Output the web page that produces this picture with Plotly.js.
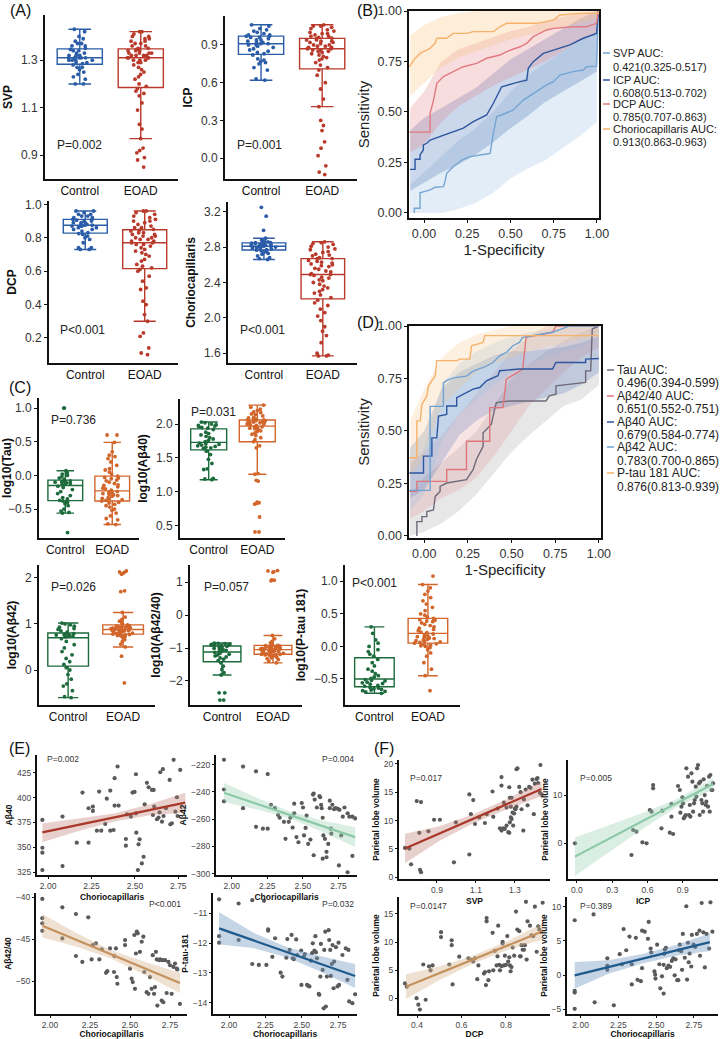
<!DOCTYPE html>
<html>
<head>
<meta charset="utf-8">
<script src="https://cdn.plot.ly/plotly-3.0.1.min.js"></script>
<style>html,body{margin:0;padding:0;background:#fff}#plot{width:723px;height:1039px}</style>
</head>
<body>
<div id="plot"></div>
<script>
// ---------- (A) OCTA box plots ----------
var svpControl = [1.20,1.20,1.22,1.23,1.24,1.25,1.26,1.27,1.27,1.28,1.285,1.29,1.29,1.30,1.30,1.30,1.30,1.31,1.31,1.31,1.31,1.31,1.32,1.32,1.32,1.33,1.33,1.34,1.34,1.345,1.35,1.36,1.36,1.37,1.37,1.38,1.39,1.40,1.42,1.43];
var svpEoad = [0.85,0.88,0.89,0.91,0.92,0.93,0.97,1.01,1.03,1.09,1.12,1.15,1.16,1.17,1.18,1.19,1.20,1.22,1.23,1.24,1.25,1.26,1.27,1.28,1.29,1.29,1.30,1.30,1.30,1.31,1.31,1.31,1.31,1.32,1.32,1.32,1.32,1.33,1.33,1.33,1.33,1.34,1.34,1.34,1.345,1.35,1.35,1.36,1.36,1.37,1.37,1.38,1.38,1.39,1.39,1.40,1.40,1.41,1.42,1.42];
var icpControl = [0.62,0.63,0.70,0.72,0.75,0.76,0.77,0.78,0.79,0.82,0.83,0.84,0.85,0.86,0.87,0.88,0.89,0.90,0.90,0.91,0.91,0.92,0.92,0.93,0.94,0.94,0.95,0.96,0.96,0.97,0.97,0.98,0.98,0.99,1.00,1.01,1.02,1.03,1.05,1.06];
var icpEoad = [-0.13,-0.11,-0.06,0.02,0.08,0.13,0.22,0.26,0.30,0.41,0.47,0.55,0.60,0.66,0.70,0.72,0.74,0.76,0.78,0.79,0.80,0.81,0.82,0.83,0.84,0.85,0.85,0.86,0.86,0.87,0.87,0.88,0.88,0.89,0.89,0.90,0.90,0.91,0.92,0.92,0.93,0.93,0.94,0.94,0.95,0.955,0.96,0.97,0.97,0.98,0.99,0.99,1.00,1.01,1.02,1.03,1.04,1.05,1.05,1.06];
var dcpControl = [0.73,0.73,0.74,0.74,0.77,0.79,0.80,0.81,0.82,0.825,0.83,0.84,0.85,0.85,0.86,0.86,0.87,0.87,0.87,0.875,0.875,0.88,0.88,0.89,0.89,0.89,0.90,0.90,0.905,0.91,0.91,0.92,0.92,0.93,0.93,0.94,0.94,0.95,0.96,0.96];
var dcpEoad = [0.10,0.11,0.14,0.21,0.23,0.30,0.34,0.40,0.42,0.49,0.50,0.54,0.57,0.60,0.61,0.62,0.63,0.64,0.66,0.67,0.69,0.70,0.71,0.72,0.73,0.74,0.75,0.76,0.76,0.77,0.77,0.78,0.78,0.79,0.79,0.80,0.80,0.81,0.81,0.82,0.82,0.83,0.83,0.84,0.845,0.85,0.86,0.86,0.87,0.88,0.89,0.90,0.90,0.91,0.92,0.93,0.94,0.95,0.96,0.96];
var choControl = [2.66,2.67,2.68,2.70,2.72,2.73,2.74,2.75,2.76,2.765,2.77,2.78,2.78,2.79,2.79,2.80,2.80,2.80,2.81,2.81,2.81,2.82,2.82,2.82,2.83,2.83,2.83,2.84,2.84,2.845,2.85,2.85,2.86,2.86,2.87,2.88,2.90,2.99,3.15,3.25];
var choEoad = [1.57,1.57,1.58,1.60,1.72,1.80,1.85,1.90,1.97,2.02,2.06,2.10,2.14,2.17,2.20,2.23,2.26,2.28,2.30,2.32,2.34,2.36,2.38,2.40,2.42,2.43,2.45,2.46,2.48,2.49,2.49,2.50,2.52,2.53,2.55,2.56,2.58,2.59,2.60,2.61,2.62,2.63,2.64,2.65,2.67,2.67,2.68,2.70,2.71,2.72,2.74,2.75,2.77,2.78,2.80,2.81,2.83,2.84,2.85,2.86];

// ---------- (C) plasma marker box plots ----------
var tauControl = [-0.85,-0.56,-0.55,-0.53,-0.50,-0.45,-0.42,-0.40,-0.38,-0.37,-0.35,-0.33,-0.30,-0.27,-0.24,-0.21,-0.18,-0.16,-0.14,-0.13,-0.12,-0.11,-0.10,-0.10,-0.09,-0.09,-0.08,-0.06,-0.04,-0.02,0.0,0.02,0.04,0.07,1.0,1.0];
var tauEoad = [-0.73,-0.72,-0.66,-0.64,-0.60,-0.56,-0.52,-0.50,-0.47,-0.45,-0.43,-0.41,-0.40,-0.38,-0.37,-0.36,-0.35,-0.34,-0.33,-0.31,-0.30,-0.29,-0.28,-0.27,-0.26,-0.25,-0.24,-0.22,-0.20,-0.19,-0.17,-0.15,-0.14,-0.12,-0.10,-0.08,-0.07,-0.05,-0.04,-0.03,-0.01,0.02,0.05,0.08,0.10,0.15,0.20,0.25,0.28,0.30,0.35,0.49,0.60,0.60];
var ab40Control = [1.18,1.19,1.20,1.33,1.34,1.42,1.48,1.55,1.60,1.64,1.65,1.66,1.67,1.68,1.69,1.70,1.71,1.72,1.74,1.76,1.78,1.80,1.82,1.84,1.86,1.88,1.92,1.94,1.95,1.96,1.97,1.98,1.99,2.00,2.02,2.03];
var ab40Eoad = [0.41,0.41,0.63,0.82,0.83,0.84,0.85,1.16,1.17,1.26,1.27,1.65,1.68,1.74,1.77,1.80,1.83,1.85,1.87,1.89,1.90,1.92,1.93,1.94,1.95,1.96,1.96,1.98,1.99,2.00,2.00,2.01,2.02,2.02,2.03,2.03,2.04,2.05,2.05,2.06,2.06,2.07,2.08,2.09,2.10,2.12,2.14,2.15,2.17,2.18,2.20,2.22,2.25,2.28];
var ab42Control = [-0.60,-0.58,-0.45,-0.35,-0.30,-0.20,-0.10,0.0,0.05,0.12,0.18,0.25,0.33,0.40,0.48,0.55,0.62,0.68,0.72,0.73,0.74,0.75,0.76,0.76,0.77,0.78,0.79,0.82,0.85,0.88,0.90,0.93,0.95,0.98,1.0,1.02];
var ab42Eoad = [-0.28,0.30,0.50,0.56,0.62,0.66,0.70,0.72,0.74,0.75,0.76,0.77,0.77,0.78,0.79,0.80,0.81,0.82,0.83,0.84,0.85,0.85,0.86,0.86,0.87,0.87,0.88,0.88,0.89,0.90,0.90,0.91,0.92,0.93,0.93,0.94,0.95,0.95,0.96,0.96,0.98,1.00,1.03,1.06,1.10,1.15,1.25,1.70,1.72,2.08,2.10,2.12,2.13,2.15];
var ratioControl = [-2.58,-2.58,-2.36,-2.36,-1.82,-1.75,-1.65,-1.55,-1.45,-1.38,-1.34,-1.30,-1.27,-1.24,-1.21,-1.19,-1.16,-1.13,-1.11,-1.09,-1.07,-1.05,-1.03,-1.01,-0.99,-0.97,-0.95,-0.93,-0.92,-0.91,-0.90,-0.89,-0.88,-0.87,-0.86,-0.85];
var ratioEoad = [-1.45,-1.40,-1.35,-1.32,-1.30,-1.28,-1.26,-1.24,-1.22,-1.21,-1.20,-1.20,-1.19,-1.19,-1.18,-1.16,-1.15,-1.13,-1.12,-1.11,-1.10,-1.09,-1.08,-1.07,-1.06,-1.06,-1.05,-1.05,-1.04,-1.03,-1.02,-1.01,-1.00,-0.99,-0.98,-0.97,-0.96,-0.95,-0.94,-0.93,-0.92,-0.90,-0.88,-0.85,-0.80,-0.72,-0.62,1.04,1.06,1.07,1.30,1.32,1.34,1.35];
var ptauControl = [-0.72,-0.70,-0.69,-0.68,-0.67,-0.66,-0.65,-0.64,-0.63,-0.61,-0.60,-0.58,-0.57,-0.56,-0.55,-0.53,-0.52,-0.51,-0.49,-0.47,-0.45,-0.42,-0.38,-0.35,-0.30,-0.25,-0.20,-0.15,-0.12,-0.08,-0.05,0.0,0.05,0.10,0.20,0.30];
var ptauEoad = [-0.68,-0.45,-0.35,-0.25,-0.15,-0.10,-0.05,-0.02,0.0,0.01,0.02,0.03,0.04,0.05,0.06,0.07,0.08,0.09,0.10,0.11,0.12,0.13,0.14,0.15,0.16,0.17,0.19,0.21,0.22,0.24,0.26,0.28,0.30,0.32,0.34,0.36,0.38,0.39,0.40,0.41,0.43,0.45,0.48,0.50,0.55,0.60,0.65,0.70,0.75,0.80,0.85,0.90,0.95,1.08];

// ---------- (B) ROC, OCTA ----------
var bandGrid = [-0.08,0,0.1,0.2,0.3,0.4,0.5,0.6,0.7,0.8,0.9,1.0];
var svpRocX = [-0.056,-0.056,-0.023,-0.023,0.035,0.064,0.112,0.121,0.131,0.169,0.218,0.266,0.362,0.382,0.401,0.420,0.449,0.516,0.574,0.651,0.709,0.748,0.786,0.863,0.921,0.940,0.998,1.008];
var svpRocY = [0,0.023,0.023,0.100,0.114,0.127,0.130,0.155,0.196,0.229,0.262,0.279,0.292,0.295,0.394,0.477,0.485,0.510,0.559,0.601,0.634,0.650,0.683,0.700,0.708,0.724,0.727,1.000];
var svpLo = [0,0,0,0.02,0.05,0.10,0.17,0.22,0.26,0.32,0.38,0.45];
var svpHi = [0.14,0.20,0.28,0.36,0.42,0.50,0.60,0.68,0.74,0.80,0.85,0.90];
var icpRocX = [-0.081,-0.052,-0.052,-0.023,-0.023,-0.004,-0.004,0.016,0.035,0.093,0.169,0.227,0.285,0.362,0.401,0.449,0.555,0.594,0.603,0.632,0.690,0.748,0.844,0.921,0.998,1.008];
var icpRocY = [0.216,0.216,0.266,0.266,0.287,0.312,0.337,0.345,0.361,0.378,0.403,0.420,0.452,0.485,0.543,0.625,0.650,0.658,0.716,0.749,0.790,0.807,0.832,0.865,0.889,1.000];
var icpLo = [0.11,0.15,0.20,0.24,0.29,0.35,0.42,0.48,0.55,0.60,0.65,0.70];
var icpHi = [0.41,0.47,0.52,0.57,0.62,0.69,0.76,0.81,0.86,0.91,0.96,1.00];
var dcpRocX = [-0.085,0.035,0.035,0.055,0.074,0.112,0.169,0.227,0.304,0.362,0.439,0.478,0.555,0.594,0.632,0.709,0.748,0.863,0.940,0.998,1.008];
var dcpRocY = [0.400,0.400,0.493,0.559,0.642,0.675,0.700,0.724,0.741,0.766,0.782,0.799,0.823,0.840,0.873,0.906,0.914,0.922,0.922,0.939,1.000];
var dcpLo = [0.30,0.34,0.45,0.53,0.58,0.63,0.67,0.71,0.75,0.80,0.85,0.89];
var dcpHi = [0.52,0.60,0.75,0.81,0.84,0.87,0.90,0.92,0.95,0.97,0.99,1.00];
var choRocX = [-0.085,-0.052,-0.023,0.035,0.064,0.074,0.131,0.169,0.246,0.285,0.401,0.439,0.478,0.651,0.748,0.786,0.902,1.008,1.008];
var choRocY = [0.724,0.765,0.790,0.815,0.840,0.865,0.865,0.889,0.889,0.898,0.898,0.922,0.939,0.939,0.955,0.980,0.988,0.988,1.000];
var choLo = [0.58,0.64,0.72,0.77,0.80,0.83,0.86,0.88,0.90,0.92,0.94,0.96];
var choHi = [0.88,0.93,0.97,0.99,1,1,1,1,1,1,1,1];
var rocLabelsB = ['SVP AUC:', '0.421(0.325-0.517)', 'ICP AUC:', '0.608(0.513-0.702)', 'DCP AUC:', '0.785(0.707-0.863)', 'Choriocapillaris AUC:', '0.913(0.863-0.963)'];

// ---------- (D) ROC, plasma markers ----------
var tauRocX = [-0.042,-0.042,-0.013,-0.013,0.015,0.015,0.053,0.063,0.091,0.091,0.129,0.186,0.242,0.261,0.280,0.299,0.337,0.337,0.384,0.403,0.413,0.489,0.697,0.716,0.754,0.754,0.924,0.924,0.953,0.962,1.0];
var tauRocY = [0,0.068,0.068,0.092,0.092,0.116,0.124,0.188,0.212,0.236,0.252,0.260,0.268,0.292,0.316,0.364,0.427,0.491,0.531,0.603,0.635,0.643,0.643,0.667,0.675,0.715,0.731,0.786,0.786,0.986,1.0];
var tauLo = [0,0.02,0.06,0.12,0.20,0.30,0.40,0.48,0.55,0.62,0.65,0.72];
var tauHi = [0.20,0.28,0.35,0.42,0.50,0.62,0.75,0.82,0.88,0.93,0.97,1.0];
var ratioRocX = [-0.085,-0.042,-0.042,0.129,0.129,0.242,0.242,0.375,0.375,0.451,0.470,0.564,0.583,0.735,0.754,1.0];
var ratioRocY = [0.212,0.212,0.260,0.260,0.316,0.316,0.451,0.451,0.611,0.611,0.747,0.795,0.946,0.970,1.0,1.0];
var ratioLo = [0.08,0.12,0.18,0.22,0.28,0.38,0.50,0.62,0.70,0.78,0.85,0.90];
var ratioHi = [0.35,0.40,0.48,0.58,0.68,0.78,0.88,0.95,1,1,1,1];
var ab40RocX = [-0.085,-0.004,-0.004,0.044,0.044,0.072,0.082,0.129,0.129,0.186,0.186,0.280,0.318,0.356,0.422,0.432,0.545,0.735,0.754,0.924,0.924,0.962,1.0];
var ab40RocY = [0.300,0.300,0.380,0.380,0.467,0.467,0.571,0.579,0.619,0.619,0.659,0.699,0.707,0.739,0.763,0.787,0.795,0.795,0.826,0.826,0.842,0.845,0.845];
var ab40Lo = [0.18,0.22,0.35,0.48,0.55,0.60,0.62,0.64,0.66,0.68,0.72,0.78];
var ab40Hi = [0.42,0.50,0.70,0.78,0.82,0.86,0.88,0.88,0.89,0.90,0.92,0.95];
var ab42RocX = [-0.085,0.034,0.034,0.110,0.110,0.129,0.167,0.242,0.280,0.356,0.394,0.432,0.470,0.508,0.545,0.564,0.735,0.830,1.0];
var ab42RocY = [0.217,0.217,0.617,0.617,0.729,0.741,0.753,0.761,0.785,0.809,0.826,0.858,0.874,0.906,0.922,0.946,0.970,1.0,1.0];
var ab42Lo = [0.12,0.20,0.45,0.58,0.65,0.72,0.78,0.82,0.85,0.88,0.90,0.95];
var ab42Hi = [0.32,0.42,0.72,0.82,0.88,0.92,0.95,0.97,0.98,0.99,1,1];
var ptauRocX = [-0.085,-0.042,-0.042,-0.023,-0.013,0.015,0.025,0.063,0.072,0.186,0.205,0.261,0.271,0.337,0.346,1.0];
var ptauRocY = [0.372,0.372,0.548,0.548,0.627,0.667,0.715,0.763,0.835,0.835,0.842,0.842,0.906,0.922,0.954,0.954];
var ptauLo = [0.28,0.38,0.62,0.70,0.78,0.82,0.85,0.88,0.90,0.92,0.94,0.96];
var ptauHi = [0.55,0.70,0.85,0.92,0.96,0.98,1,1,1,1,1,1];
var rocLabelsD = ['Tau AUC:', '0.496(0.394-0.599)', 'A\u03b242/40 AUC:', '0.651(0.552-0.751)', 'A\u03b240 AUC:', '0.679(0.584-0.774)', 'A\u03b242 AUC:', '0.783(0.700-0.865)', 'P-tau 181 AUC:', '0.876(0.813-0.939)'];

// ---------- (E) markers vs choriocapillaris ----------
var e1X = [1.967,1.967,1.967,2.083,2.165,2.198,2.233,2.233,2.258,2.258,2.281,2.294,2.306,2.338,2.329,2.358,2.358,2.377,2.400,2.383,2.406,2.383,2.448,2.448,2.454,2.477,2.498,2.486,2.506,2.506,2.508,2.527,2.521,2.550,2.556,2.569,2.579,2.598,2.604,2.608,2.611,2.627,2.636,2.646,2.642,2.656,2.661,2.665,2.679,2.700,2.704,2.713,2.723,2.733,2.742,2.746,2.761,1.967,2.083,2.517,2.540];
var e1Y = [377.5,349.5,344.5,380.9,354.6,405.1,389.3,354.6,391.0,386.6,366.7,406.1,366.7,399.0,373.4,366.7,407.1,367.4,431.4,392.0,392.0,419.6,358.3,351.6,383.2,380.9,405.8,405.1,423.6,384.2,364.7,358.0,352.9,340.4,393.3,414.9,410.5,407.8,382.5,407.8,391.0,378.2,379.9,425.6,385.2,375.8,428.7,381.5,389.3,417.9,373.1,374.1,438.1,385.9,400.4,381.5,428.0,327.0,331.0,327.0,333.7];
var e1FitX = [1.967,2.17,2.38,2.58,2.79];
var e1Fit = [365,372.4,380,387.3,395];
var e1Lo = [355,366,376,382,385];
var e1Hi = [374,379,384,393,405];

var e2X = [1.946,1.946,1.946,2.080,2.080,2.171,2.171,2.253,2.219,2.253,2.276,2.303,2.326,2.337,2.367,2.378,2.401,2.412,2.428,2.439,2.439,2.455,2.469,2.492,2.501,2.508,2.519,2.526,2.537,2.553,2.571,2.576,2.583,2.598,2.617,2.621,2.628,2.632,2.639,2.644,2.655,2.666,2.678,2.689,2.689,2.696,2.700,2.707,2.719,2.730,2.746,2.757,2.769,2.780,2.792,2.814,2.826,2.848,2.848,2.867,2.753,2.814,2.576,2.639,2.666];
var e2Y = [-216.5,-238.3,-247.0,-221.5,-252.0,-225.0,-265.7,-227.0,-267.0,-267.0,-249.5,-252.0,-257.0,-259.0,-262.0,-274.5,-262.0,-259.0,-266.2,-248.7,-255.7,-273.2,-277.0,-248.2,-251.5,-272.0,-266.5,-257.5,-278.2,-275.0,-242.0,-241.3,-245.7,-251.5,-243.2,-244.0,-249.5,-252.0,-259.0,-272.0,-274.5,-284.0,-278.2,-246.5,-252.0,-267.0,-270.7,-249.5,-252.7,-252.0,-252.5,-253.2,-272.0,-258.2,-251.5,-255.7,-258.2,-258.2,-287.0,-259.5,-294.0,-299.0,-286.5,-289.0,-288.0];
var e2FitX = [1.946,2.18,2.41,2.64,2.867];
var e2Fit = [-240.7,-249,-257,-265,-273.2];
var e2Lo = [-247.5,-253,-259.5,-269.5,-280.5];
var e2Hi = [-233.5,-244.5,-254.5,-261,-266];

var e3X = [1.952,1.952,1.952,1.952,2.077,2.077,2.162,2.162,2.202,2.239,2.260,2.267,2.287,2.308,2.323,2.375,2.350,2.358,2.402,2.400,2.412,2.417,2.421,2.469,2.469,2.500,2.510,2.517,2.527,2.542,2.548,2.531,2.537,2.562,2.573,2.583,2.589,2.604,2.615,2.625,2.635,2.642,2.650,2.656,2.662,2.667,2.671,2.683,2.688,2.698,2.704,2.708,2.719,2.729,2.740,2.750,2.760,2.771,2.781,2.792,2.796,2.812];
var e3Y = [-40.2,-42.5,-43.1,-44.0,-41.2,-44.9,-42.0,-47.0,-47.7,-42.4,-47.4,-45.7,-45.5,-47.4,-46.2,-46.1,-49.0,-48.8,-47.0,-48.9,-46.1,-49.5,-50.3,-45.1,-45.7,-48.5,-49.7,-50.1,-44.5,-44.1,-44.3,-50.9,-46.7,-46.5,-45.3,-44.7,-48.9,-51.3,-51.5,-49.5,-50.9,-46.9,-51.5,-50.7,-46.5,-47.4,-52.9,-47.5,-47.4,-52.3,-47.5,-52.5,-47.5,-51.4,-47.7,-48.1,-51.5,-48.3,-47.9,-48.5,-48.6,-52.7];
var e3FitX = [1.952,2.167,2.382,2.597,2.812];
var e3Fit = [-43.4,-45.1,-46.8,-48.5,-50.2];
var e3Lo = [-44.8,-45.9,-47.3,-49.3,-51.4];
var e3Hi = [-42.0,-44.3,-46.3,-47.7,-49.0];

var e4X = [1.932,1.932,1.932,2.066,2.066,2.160,2.160,2.205,2.241,2.257,2.269,2.269,2.298,2.317,2.355,2.367,2.394,2.401,2.417,2.430,2.439,2.446,2.462,2.469,2.496,2.498,2.514,2.521,2.537,2.544,2.553,2.564,2.571,2.576,2.587,2.594,2.598,2.605,2.617,2.621,2.628,2.632,2.644,2.651,2.655,2.662,2.666,2.673,2.685,2.689,2.696,2.700,2.707,2.712,2.719,2.723,2.735,2.746,2.753,2.757,2.780,2.803,2.814,2.821,2.826,2.848,2.867];
var e4Y = [-10.54,-11.77,-11.99,-10.68,-11.90,-10.57,-12.70,-12.73,-10.59,-12.73,-11.54,-11.59,-12.46,-11.84,-12.99,-13.12,-12.49,-11.87,-12.23,-11.73,-12.51,-12.54,-11.88,-12.40,-12.25,-13.40,-12.46,-12.37,-13.40,-13.43,-13.45,-12.59,-12.34,-12.01,-12.25,-11.77,-12.31,-12.51,-13.70,-13.73,-13.12,-12.03,-12.90,-14.18,-12.23,-11.62,-14.12,-13.12,-11.57,-11.90,-12.23,-13.10,-12.70,-12.07,-13.51,-12.62,-12.14,-13.45,-11.99,-13.40,-12.40,-12.18,-13.23,-12.23,-13.95,-14.01,-13.71];
var e4FitX = [1.932,2.166,2.4,2.633,2.867];
var e4Fit = [-11.51,-11.91,-12.31,-12.7,-13.1];
var e4Lo = [-12.05,-12.17,-12.48,-12.96,-13.5];
var e4Hi = [-10.97,-11.65,-12.14,-12.44,-12.7];

// ---------- (F) parietal lobe volume vs OCTA ----------
var f1X = [0.736,0.758,0.796,0.818,0.809,0.856,0.885,0.915,0.997,1.066,1.066,1.086,1.074,1.095,1.117,1.146,1.155,1.185,1.189,1.211,1.231,1.231,1.243,1.257,1.271,1.274,1.279,1.283,1.300,1.308,1.313,1.223,1.231,1.240,1.248,1.257,1.266,1.271,1.274,1.279,1.283,1.288,1.291,1.296,1.303,1.308,1.322,1.329,1.334,1.343,1.346,1.355,1.365,1.373,1.380,1.390,1.397,1.402,1.411,1.416,1.419,1.428,1.431,1.437,0.767,0.813,0.818,0.987];
var f1Y = [5.18,5.07,13.46,13.28,7.84,8.13,10.16,10.16,9.70,14.62,4.02,13.63,11.14,9.41,10.56,9.58,11.14,15.14,10.68,12.13,17.68,16.18,13.17,12.30,15.89,14.04,12.47,14.04,12.13,19.07,19.24,8.65,8.25,8.65,8.54,9.12,7.96,7.84,9.70,10.56,10.27,11.43,9.12,11.26,12.01,12.47,15.95,15.02,12.01,8.25,13.75,15.48,12.71,15.95,15.77,17.22,11.14,16.53,17.33,17.51,16.64,14.90,19.82,14.62,2.29,1.31,0.90,2.64];
var f1FitX = [0.736,0.911,1.087,1.262,1.437];
var f1Fit = [5.07,7.7,10.33,12.97,15.6];
var f1Lo = [2.47,6.4,9.53,12.07,14.3];
var f1Hi = [7.67,9.0,11.13,13.87,16.9];

var f2X = [-0.017,0.464,0.478,0.506,0.557,0.592,0.648,0.648,0.620,0.634,0.719,0.727,0.790,0.818,0.804,0.804,0.860,0.875,0.880,0.889,0.897,0.903,0.909,0.917,0.926,0.931,0.945,0.954,0.960,0.965,0.974,0.982,0.988,0.996,1.002,1.011,1.016,1.022,1.030,1.039,1.045,1.050,1.059,1.067,1.073,1.078,1.087,1.096,1.101,1.107,1.115,1.124,1.130,1.135,1.144,1.152,1.158];
var f2Y = [-0.07,-2.50,2.71,2.36,0.14,-0.07,12.09,11.39,6.88,6.53,3.06,6.74,2.16,1.88,8.13,5.49,11.88,11.05,6.32,7.57,9.52,8.27,5.14,5.49,5.84,15.56,13.82,5.84,7.92,5.49,14.52,12.78,6.53,8.27,8.96,11.74,9.66,15.56,16.25,12.43,5.84,12.78,8.96,8.27,6.53,13.27,10.00,7.92,8.61,11.88,7.57,13.82,6.53,14.17,11.05,11.05,12.43];
var f2FitX = [-0.017,0.277,0.571,0.864,1.158];
var f2Fit = [-2.84,0.95,4.74,8.52,12.3];
var f2Lo = [-6.84,-1.85,3.14,7.72,11.1];
var f2Hi = [1.16,3.75,6.34,9.32,13.5];

var f3X = [0.346,0.354,0.398,0.406,0.413,0.439,0.428,0.454,0.461,0.470,0.508,0.508,0.545,0.556,0.556,0.560,0.590,0.631,0.646,0.653,0.661,0.671,0.676,0.701,0.706,0.710,0.713,0.713,0.721,0.724,0.740,0.743,0.750,0.758,0.762,0.765,0.770,0.773,0.780,0.785,0.785,0.791,0.795,0.800,0.806,0.810,0.815,0.818,0.821,0.825,0.830,0.837,0.845,0.851,0.860,0.863,0.866,0.870,0.875,0.881,0.885,0.890,0.893,0.897,0.908,0.915,0.923,0.930,0.938,0.945,0.950,0.965];
var f3Y = [2.63,2.05,0.02,-1.14,-2.01,-0.27,6.00,5.65,4.96,5.83,11.75,10.88,6.00,10.30,9.43,2.46,7.40,7.11,6.82,6.52,7.11,3.39,5.83,4.38,4.67,2.34,14.25,13.67,3.21,4.78,11.63,4.96,8.44,5.83,7.45,12.91,5.94,4.96,5.71,10.01,9.72,5.83,7.57,5.94,11.05,6.52,7.28,5.83,4.78,5.54,9.02,7.57,15.41,12.22,11.92,7.45,7.45,9.43,8.62,8.62,9.43,17.15,6.87,13.67,12.91,11.17,11.05,16.28,8.27,12.80,12.22,16.98];
var f3FitX = [0.35,0.504,0.658,0.811,0.965];
var f3Fit = [2.05,4.51,6.98,9.44,11.9];
var f3Lo = [-0.15,3.31,6.28,8.64,10.45];
var f3Hi = [4.25,5.71,7.68,10.24,13.35];

var f4X = [1.961,1.961,1.961,1.961,2.086,2.093,2.177,2.177,2.177,2.220,2.259,2.274,2.285,2.302,2.324,2.339,2.339,2.366,2.377,2.399,2.407,2.407,2.425,2.446,2.451,2.464,2.468,2.489,2.494,2.496,2.507,2.522,2.528,2.539,2.550,2.550,2.554,2.558,2.565,2.571,2.582,2.593,2.604,2.614,2.623,2.629,2.640,2.647,2.651,2.657,2.666,2.672,2.677,2.690,2.700,2.705,2.711,2.716,2.722,2.733,2.737,2.748,2.759,2.770,2.787,2.791,2.802,2.813,2.823,2.834,2.851,2.860,2.873];
var f4Y = [8.00,-2.33,-2.57,-4.95,8.86,-4.00,2.43,1.33,0.76,-4.43,3.05,1.57,6.71,3.62,5.62,-1.38,1.57,5.43,-0.71,-0.90,1.00,6.48,6.33,5.29,7.76,3.86,3.29,0.52,0.05,-0.52,4.43,1.57,-1.95,-0.19,1.48,-2.71,3.10,3.71,3.95,1.00,1.38,1.19,2.05,2.43,-0.05,2.29,-0.76,-0.76,3.62,4.43,3.48,0.76,6.00,2.52,10.05,-0.67,4.71,1.86,3.14,1.24,5.86,4.43,4.10,6.00,6.48,2.81,10.52,6.24,1.10,6.00,3.86,10.62,6.33];
var f4FitX = [1.961,2.185,2.409,2.632,2.856];
var f4Fit = [-0.05,1.17,2.38,3.6,4.81];
var f4Lo = [-2.0,0.17,1.68,2.8,3.51];
var f4Hi = [1.9,2.17,3.08,4.4,6.11];

// ---------- layout helpers ----------
var W = 723, H = 1039;
var FONT = '"Liberation Sans", Arial, sans-serif';
var chart_data = [];
var layout = {
  width: W, height: H,
  margin: {l: 0, r: 0, t: 0, b: 0},
  paper_bgcolor: 'white', plot_bgcolor: 'rgba(0,0,0,0)',
  showlegend: false,
  font: {family: FONT, color: '#222'},
  annotations: [], shapes: []
};

var blue = '#2a5ca8', red = '#b93a2b', green = '#1d6b3c', orange = '#d2652a';

function suffix(n) { return n === 1 ? '' : String(n); }

function axis(extra) {
  return Object.assign({showgrid: false, zeroline: false, showline: true, linecolor: '#111', linewidth: 2,
    ticks: 'outside', ticklen: 3, tickcolor: '#111', tickwidth: 1}, extra);
}

function setAxes(n, l, r, t, b, xo, yo) {
  var s = suffix(n);
  layout['xaxis' + s] = axis(Object.assign({domain: [l / W, r / W], anchor: 'y' + s}, xo));
  layout['yaxis' + s] = axis(Object.assign({domain: [1 - b / H, 1 - t / H], anchor: 'x' + s}, yo));
}

function note(text, px, py, size, extra) {
  layout.annotations.push(Object.assign({xref: 'paper', yref: 'paper', x: px / W, y: 1 - py / H, text: text,
    showarrow: false, xanchor: 'left', yanchor: 'middle', font: {size: size, color: '#222'}}, extra));
}

function boxPanel(n, ctrl, eoad, c1, c2) {
  var s = suffix(n);
  [['Control', ctrl, c1], ['EOAD', eoad, c2]].forEach(function (g) {
    chart_data.push({type: 'box', y: g[1], name: g[0], xaxis: 'x' + s, yaxis: 'y' + s,
      boxpoints: 'all', jitter: 0.7, pointpos: 0, width: 0.74, whiskerwidth: 0.5,
      fillcolor: 'rgba(255,255,255,0)', line: {color: g[2], width: 1.4},
      marker: {color: g[2], size: 3.8}, showlegend: false, hoverinfo: 'skip'});
  });
}

function boxAxes(n, l, r, t, b, xr, yr, tv, fmt, title) {
  setAxes(n, l, r, t, b,
    {type: 'category', range: xr, ticks: '', tickfont: {size: 12, color: '#111'}},
    {range: yr, tickvals: tv, tickformat: fmt, tickfont: {size: 12, color: '#333'},
     title: {text: title, font: {size: 12, weight: 'bold', color: '#111'}, standoff: 6}});
}

function rocPanel(n, curves) {
  var s = suffix(n);
  curves.forEach(function (c) {
    chart_data.push({type: 'scatter', mode: 'lines', xaxis: 'x' + s, yaxis: 'y' + s,
      x: bandGrid.concat(bandGrid.slice().reverse()), y: c.hi.concat(c.lo.slice().reverse()),
      fill: 'toself', fillcolor: c.band, line: {width: 0}, hoverinfo: 'skip'});
  });
  curves.forEach(function (c) {
    chart_data.push({type: 'scatter', mode: 'lines', xaxis: 'x' + s, yaxis: 'y' + s,
      x: c.x, y: c.y, line: {color: c.color, width: 1.4}, hoverinfo: 'skip'});
  });
}

function rocAxes(n, l, r, t, b, yr) {
  setAxes(n, l, r, t, b,
    {range: [-0.087, 1.012], tickvals: [0, 0.25, 0.5, 0.75, 1], tickformat: '.2f', mirror: true, linewidth: 1.6,
     tickfont: {size: 12.5, color: '#333'}, title: {text: '1-Specificity', font: {size: 15, color: '#222'}, standoff: 2}},
    {range: yr, tickvals: [0, 0.25, 0.5, 0.75, 1], tickformat: '.2f', mirror: true, linewidth: 1.6,
     tickfont: {size: 12.5, color: '#333'}, title: {text: 'Sensitivity', font: {size: 15, color: '#222'}, standoff: 4}});
}

function rocLegend(labels, colors, keyX, textX, rows, size) {
  labels.forEach(function (t, i) {
    note(t, textX, rows[i], size, {font: {size: size, color: '#222'}});
    if (i % 2 === 0) {
      var yy = 1 - rows[i] / H;
      layout.shapes.push({type: 'line', xref: 'paper', yref: 'paper', x0: keyX / W, x1: (keyX + 7) / W, y0: yy, y1: yy,
        line: {color: colors[i / 2], width: 1.5}});
    }
  });
}

function scatterPanel(n, xs, ys, fx, fit, lo, hi, lineCol, bandCol) {
  var s = suffix(n);
  chart_data.push({type: 'scatter', mode: 'markers', xaxis: 'x' + s, yaxis: 'y' + s, x: xs, y: ys,
    marker: {color: '#5a5a5a', size: 4.2}, hoverinfo: 'skip'});
  chart_data.push({type: 'scatter', mode: 'lines', xaxis: 'x' + s, yaxis: 'y' + s,
    x: fx.concat(fx.slice().reverse()), y: hi.concat(lo.slice().reverse()),
    fill: 'toself', fillcolor: bandCol, line: {width: 0}, hoverinfo: 'skip'});
  chart_data.push({type: 'scatter', mode: 'lines', xaxis: 'x' + s, yaxis: 'y' + s, x: fx, y: fit,
    line: {color: lineCol, width: 2.2}, hoverinfo: 'skip'});
}

function scatterAxes(n, l, r, t, b, xr, xtv, xfmt, xtitle, yr, ytv, ytitle) {
  var small = {size: 8.5, color: '#444'};
  setAxes(n, l, r, t, b,
    {range: xr, tickvals: xtv, tickformat: xfmt, ticklen: 2, tickfont: small,
     title: {text: xtitle, font: {size: 8.5, weight: 'bold', color: '#111'}, standoff: 4}},
    {range: yr, tickvals: ytv, ticklen: 2, tickfont: small,
     title: {text: ytitle, font: {size: 8.5, weight: 'bold', color: '#111'}, standoff: 3}});
}

// ---------- (A) ----------
boxPanel(1, svpControl, svpEoad, blue, red);
boxAxes(1, 45, 178, 15, 179, [-0.57, 1.61], [0.8, 1.49], [0.9, 1.1, 1.3], '.1f', 'SVP');
boxPanel(2, icpControl, icpEoad, blue, red);
boxAxes(2, 225, 357, 16, 179, [-0.59, 1.57], [-0.165, 1.13], [0, 0.3, 0.6, 0.9], '.1f', 'ICP');
boxPanel(3, dcpControl, dcpEoad, blue, red);
boxAxes(3, 49, 178, 201, 363, [-0.61, 1.56], [0.05, 1.02], [0.2, 0.4, 0.6, 0.8, 1.0], '.1f', 'DCP');
boxPanel(4, choControl, choEoad, blue, red);
boxAxes(4, 228, 357, 202, 363, [-0.61, 1.58], [1.49, 3.31], [1.6, 2.0, 2.4, 2.8, 3.2], '.1f', 'Choriocapillaris');

// ---------- (B) ----------
var colB = ['#74a5d3', '#2d56a0', '#e27a80', '#f6b26a'];
rocPanel(5, [
  {x: svpRocX, y: svpRocY, lo: svpLo, hi: svpHi, color: colB[0], band: 'rgba(150,190,228,0.28)'},
  {x: icpRocX, y: icpRocY, lo: icpLo, hi: icpHi, color: colB[1], band: 'rgba(70,110,180,0.28)'},
  {x: dcpRocX, y: dcpRocY, lo: dcpLo, hi: dcpHi, color: colB[2], band: 'rgba(226,120,128,0.25)'},
  {x: choRocX, y: choRocY, lo: choLo, hi: choHi, color: colB[3], band: 'rgba(248,190,120,0.28)'}
]);
rocAxes(5, 409, 599, 11, 218, [-0.025, 1.0]);
rocLegend(rocLabelsB, colB, 603, 611, [53, 67, 80, 93, 104, 117, 129, 142], 11);

// ---------- (C) ----------
boxPanel(6, tauControl, tauEoad, green, orange);
boxAxes(6, 39, 139, 398, 538, [-0.56, 1.57], [-0.93, 1.15], [-0.5, 0, 0.5, 1.0], '.1f', 'log10(Tau)');
boxPanel(7, ab40Control, ab40Eoad, green, orange);
boxAxes(7, 180, 285, 399, 538, [-0.59, 1.57], [0.32, 2.37], [0.5, 1.0, 1.5, 2.0], '.1f', 'log10(A\u03b240)');
boxPanel(8, ab42Control, ab42Eoad, green, orange);
boxAxes(8, 39, 155, 565, 705, [-0.53, 1.58], [-0.76, 2.28], [0, 1, 2], 'd', 'log10(A\u03b242)');
boxPanel(9, ratioControl, ratioEoad, green, orange);
boxAxes(9, 190, 302, 565, 705, [-0.63, 1.57], [-2.73, 1.52], [-2, -1, 0, 1], 'd', 'log10(A\u03b242/40)');
boxPanel(10, ptauControl, ptauEoad, green, orange);
boxAxes(10, 345, 460, 565, 705, [-0.55, 1.6], [-0.9, 1.25], [-0.5, 0, 0.5, 1.0], '.1f', 'log10(P-tau 181)');

// ---------- (D) ----------
var colD = ['#6f6a7a', '#de767b', '#2d56a0', '#6fa2d2', '#f6b26a'];
rocPanel(11, [
  {x: tauRocX, y: tauRocY, lo: tauLo, hi: tauHi, color: colD[0], band: 'rgba(160,160,165,0.25)'},
  {x: ratioRocX, y: ratioRocY, lo: ratioLo, hi: ratioHi, color: colD[1], band: 'rgba(226,130,130,0.22)'},
  {x: ab40RocX, y: ab40RocY, lo: ab40Lo, hi: ab40Hi, color: colD[2], band: 'rgba(80,115,185,0.25)'},
  {x: ab42RocX, y: ab42RocY, lo: ab42Lo, hi: ab42Hi, color: colD[3], band: 'rgba(150,190,228,0.25)'},
  {x: ptauRocX, y: ptauRocY, lo: ptauLo, hi: ptauHi, color: colD[4], band: 'rgba(248,195,130,0.25)'}
]);
rocAxes(11, 409, 601, 326, 538, [-0.01, 1.0]);
rocLegend(rocLabelsD, colD, 607, 615, [370, 383, 396, 409, 422, 435, 447, 461, 473, 487], 12);

// ---------- (E) ----------
var xch = [2.0, 2.25, 2.5, 2.75];
scatterPanel(12, e1X, e1Y, e1FitX, e1Fit, e1Lo, e1Hi, '#a8382a', 'rgba(190,120,110,0.35)');
scatterAxes(12, 37, 187, 755, 875, [1.936, 2.80], xch, '.2f', 'Choriocapillaris', [322, 443], [325, 350, 375, 400, 425], 'A\u03b240');
scatterPanel(13, e2X, e2Y, e2FitX, e2Fit, e2Lo, e2Hi, '#8cc9a6', 'rgba(150,205,175,0.35)');
scatterAxes(13, 216, 357, 755, 875, [1.89, 2.88], xch, '.2f', 'Choriocapillaris', [-301, -213], [-300, -280, -260, -240, -220], 'A\u03b242');
scatterPanel(14, e3X, e3Y, e3FitX, e3Fit, e3Lo, e3Hi, '#c4915e', 'rgba(215,180,140,0.4)');
scatterAxes(14, 36, 187, 893, 1014, [1.9125, 2.856], xch, '.2f', 'Choriocapillaris', [-53.9, -39.5], [-50, -45, -40], 'A\u03b242/40');
scatterPanel(15, e4X, e4Y, e4FitX, e4Fit, e4Lo, e4Hi, '#1e5b8c', 'rgba(110,150,190,0.4)');
scatterAxes(15, 213, 357, 893, 1014, [1.89, 2.88], xch, '.2f', 'Choriocapillaris', [-14.37, -10.33], [-14, -13, -12, -11], 'P-tau-181');

// ---------- (F) ----------
var pl = 'Parietal lobe volume';
scatterPanel(16, f1X, f1Y, f1FitX, f1Fit, f1Lo, f1Hi, '#a8382a', 'rgba(190,120,110,0.35)');
scatterAxes(16, 399, 550, 760, 879, [0.705, 1.48], [0.9, 1.1, 1.3], '.1f', 'SVP', [-0.3, 20.7], [0, 5, 10, 15, 20], pl);
scatterPanel(17, f2X, f2Y, f2FitX, f2Fit, f2Lo, f2Hi, '#8cc9a6', 'rgba(150,205,175,0.35)');
scatterAxes(17, 568, 718, 760, 879, [-0.076, 1.2], [0, 0.3, 0.6, 0.9], '.1f', 'ICP', [-7.5, 17.3], [0, 10], pl);
scatterPanel(18, f3X, f3Y, f3FitX, f3Fit, f3Lo, f3Hi, '#c4915e', 'rgba(215,180,140,0.4)');
scatterAxes(18, 399, 550, 897, 1014, [0.319, 0.998], [0.4, 0.6, 0.8], '.1f', 'DCP', [-2.8, 18.0], [0, 5, 10, 15], pl);
scatterPanel(19, f4X, f4Y, f4FitX, f4Fit, f4Lo, f4Hi, '#1e5b8c', 'rgba(110,150,190,0.4)');
scatterAxes(19, 567, 718, 897, 1014, [1.91, 2.91], xch, '.2f', 'Choriocapillaris', [-5.7, 11.4], [-5, 0, 5, 10], pl);

// ---------- panel letters and P values ----------
[['(A)', 8, 11], ['(B)', 355, 11], ['(C)', 7, 387], ['(D)', 355, 322], ['(E)', 7, 748], ['(F)', 372, 748]].forEach(function (p) {
  note(p[0], p[1], p[2], 16, {font: {size: 16, color: '#111'}});
});
[['P=0.002', 55, 145], ['P=0.001', 235, 145], ['P<0.001', 58, 330], ['P<0.001', 238, 330],
 ['P=0.736', 49, 420], ['P=0.031', 189, 412], ['P=0.026', 49, 587], ['P=0.057', 202, 587], ['P<0.001', 350, 583]].forEach(function (p) {
  note(p[0], p[1], p[2], 12);
});
[['P=0.002', 45, 759], ['P=0.004', 320, 759], ['P<0.001', 147, 904], ['P=0.032', 320, 904],
 ['P=0.017', 408, 778], ['P=0.005', 578, 778], ['P=0.0147', 408, 906], ['P=0.389', 578, 906]].forEach(function (p) {
  note(p[0], p[1], p[2], 8.5, {font: {size: 8.5, color: '#333'}});
});

Plotly.newPlot('plot', chart_data, layout, {staticPlot: true});
</script>
</body>
</html>
